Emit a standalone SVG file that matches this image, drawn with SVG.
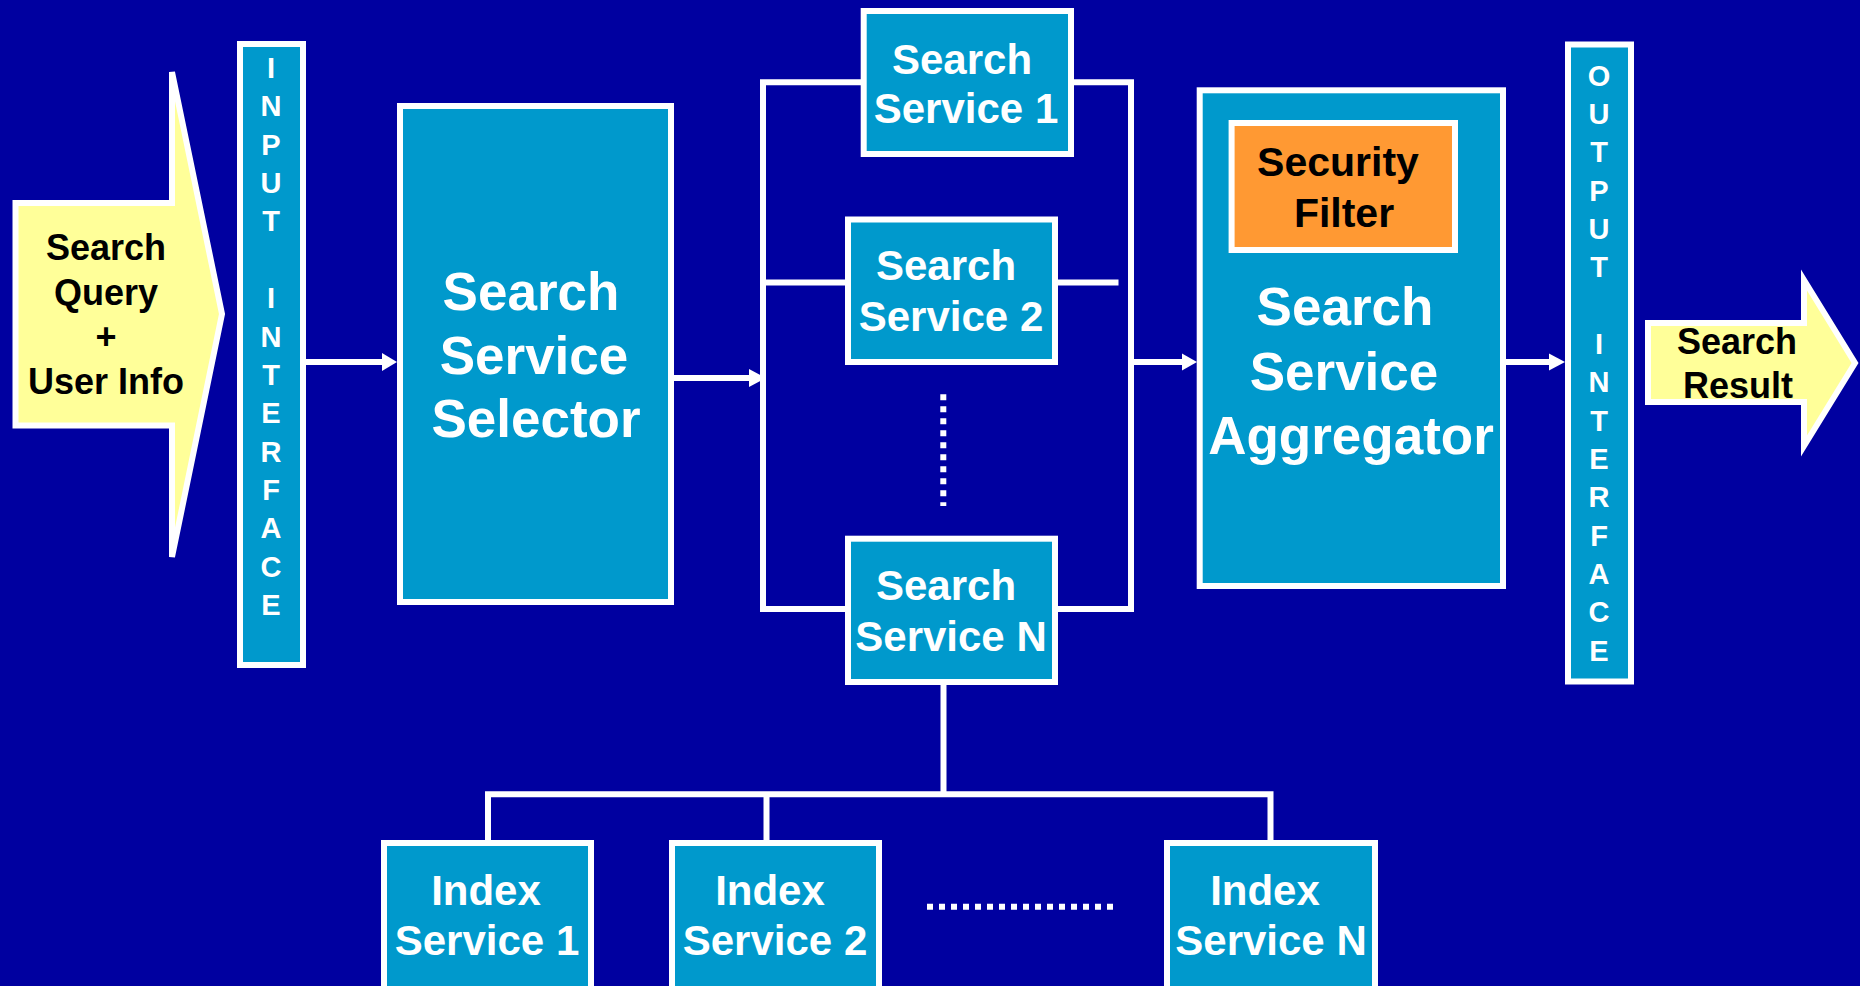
<svg xmlns="http://www.w3.org/2000/svg" width="1860" height="986" viewBox="0 0 1860 986">
<style>
.box{fill:#0099CC;stroke:#FFFFFF;stroke-width:6}
.filt{fill:#FF9933;stroke:#FFFFFF;stroke-width:6}
.arr{fill:#FFFF99;stroke:#FFFFFF;stroke-width:6;stroke-linejoin:miter}
.ln{fill:none;stroke:#FFFFFF;stroke-width:6;stroke-linejoin:miter}
.dot{fill:none;stroke:#FFFFFF;stroke-width:6;stroke-dasharray:6 6}
.hd{fill:#FFFFFF;stroke:none}
text{font-family:"Liberation Sans",Arial,sans-serif;font-weight:bold;text-anchor:middle}
.w{fill:#FFFFFF}
.k{fill:#000000}
.t29{font-size:29px}.t36{font-size:36px}.t41{font-size:41px}.t42{font-size:42px}.t53{font-size:53px}
</style>
<rect x="0" y="0" width="1860" height="986" fill="#0000A0"/>

<g id="connectors">
<path class="ln" d="M306,362 H384"/>
<polygon class="hd" points="382,353 397,362 382,371"/>
<path class="ln" d="M674,378 H751"/>
<polygon class="hd" points="749,369 766,378 749,387"/>
<path class="ln" d="M861,82.3 H763 V609 H845"/>
<path class="ln" d="M1074,82.3 H1131 V609 H1058"/>
<path class="ln" d="M763,282.5 H845"/>
<path class="ln" d="M1058,282.5 H1118.5"/>
<path class="ln" d="M1131,362 H1184"/>
<polygon class="hd" points="1182,353.5 1197,362 1182,370.5"/>
<path class="ln" d="M1506,362 H1551"/>
<polygon class="hd" points="1549,353.5 1565,362 1549,370.5"/>
<path class="ln" d="M943.5,685 V794.3"/>
<path class="ln" d="M488,843 V794.3 H1270.5 V843"/>
<path class="ln" d="M766.5,794.3 V843"/>
<path class="dot" d="M943.3,394.3 V506"/>
<path class="dot" d="M927,906.7 H1116"/>
</g>

<g id="input-arrow">
<polygon class="arr" points="15.5,203 172,203 172,72 222,314 172,557 172,425.5 15.5,425.5"/>
<text class="k t36" x="106" y="260">Search</text>
<text class="k t36" x="106" y="305">Query</text>
<text class="k t36" x="106" y="349">+</text>
<text class="k t36" x="106" y="394">User Info</text>
</g>

<g id="input-interface">
<rect class="box" x="240" y="44" width="63" height="621"/>
<text class="w t29" x="271"><tspan x="271" y="78">I</tspan><tspan x="271" y="116.4">N</tspan><tspan x="271" y="154.7">P</tspan><tspan x="271" y="193.1">U</tspan><tspan x="271" y="231.4">T</tspan><tspan x="271" y="308.1">I</tspan><tspan x="271" y="346.5">N</tspan><tspan x="271" y="384.8">T</tspan><tspan x="271" y="423.2">E</tspan><tspan x="271" y="461.5">R</tspan><tspan x="271" y="499.9">F</tspan><tspan x="271" y="538.2">A</tspan><tspan x="271" y="576.6">C</tspan><tspan x="271" y="614.9">E</tspan></text>
</g>

<g id="selector">
<rect class="box" x="400" y="106" width="271" height="496"/>
<text class="w t53" x="531" y="310">Search</text>
<text class="w t53" x="534" y="373.6">Service</text>
<text class="w t53" x="536" y="437">Selector</text>
</g>

<g id="search-service-1">
<rect class="box" x="863.7" y="11" width="207.3" height="143"/>
<text class="w t42" x="962" y="73.7">Search</text>
<text class="w t42" x="966" y="122.8">Service 1</text>
</g>

<g id="search-service-2">
<rect class="box" x="848" y="219.5" width="207" height="142.5"/>
<text class="w t42" x="946" y="280.4">Search</text>
<text class="w t42" x="951" y="331">Service 2</text>
</g>

<g id="search-service-n">
<rect class="box" x="848" y="538.7" width="207" height="143.3"/>
<text class="w t42" x="946" y="600.4">Search</text>
<text class="w t42" x="951" y="651">Service N</text>
</g>

<g id="aggregator">
<rect class="box" x="1199.7" y="90.3" width="303.3" height="495.7"/>
<text class="w t53" x="1345" y="325">Search</text>
<text class="w t53" x="1344" y="389.8">Service</text>
<text class="w t53" x="1351" y="454">Aggregator</text>
</g>

<g id="security-filter">
<rect class="filt" x="1231.6" y="123" width="223.4" height="127"/>
<text class="k t41" x="1338" y="176">Security</text>
<text class="k t41" x="1344" y="227">Filter</text>
</g>

<g id="output-interface">
<rect class="box" x="1568" y="44.5" width="63" height="637"/>
<text class="w t29" x="1599"><tspan x="1599" y="85.7">O</tspan><tspan x="1599" y="124">U</tspan><tspan x="1599" y="162.4">T</tspan><tspan x="1599" y="200.7">P</tspan><tspan x="1599" y="239.1">U</tspan><tspan x="1599" y="277.4">T</tspan><tspan x="1599" y="354.1">I</tspan><tspan x="1599" y="392.4">N</tspan><tspan x="1599" y="430.8">T</tspan><tspan x="1599" y="469.1">E</tspan><tspan x="1599" y="507.4">R</tspan><tspan x="1599" y="545.8">F</tspan><tspan x="1599" y="584.1">A</tspan><tspan x="1599" y="622.4">C</tspan><tspan x="1599" y="660.8">E</tspan></text>
</g>

<g id="output-arrow">
<polygon class="arr" points="1648,323 1804,323 1804,280 1855,363 1804,446 1804,402 1648,402"/>
<text class="k t36" x="1737" y="354">Search</text>
<text class="k t36" x="1738" y="398">Result</text>
</g>

<g id="index-service-1">
<rect class="box" x="384" y="843" width="207" height="170"/>
<text class="w t42" x="486" y="905">Index</text>
<text class="w t42" x="487" y="955">Service 1</text>
</g>

<g id="index-service-2">
<rect class="box" x="672" y="843" width="207" height="170"/>
<text class="w t42" x="770" y="905">Index</text>
<text class="w t42" x="775" y="955">Service 2</text>
</g>

<g id="index-service-n">
<rect class="box" x="1167" y="843" width="208" height="170"/>
<text class="w t42" x="1265" y="905">Index</text>
<text class="w t42" x="1271" y="955">Service N</text>
</g>
</svg>
